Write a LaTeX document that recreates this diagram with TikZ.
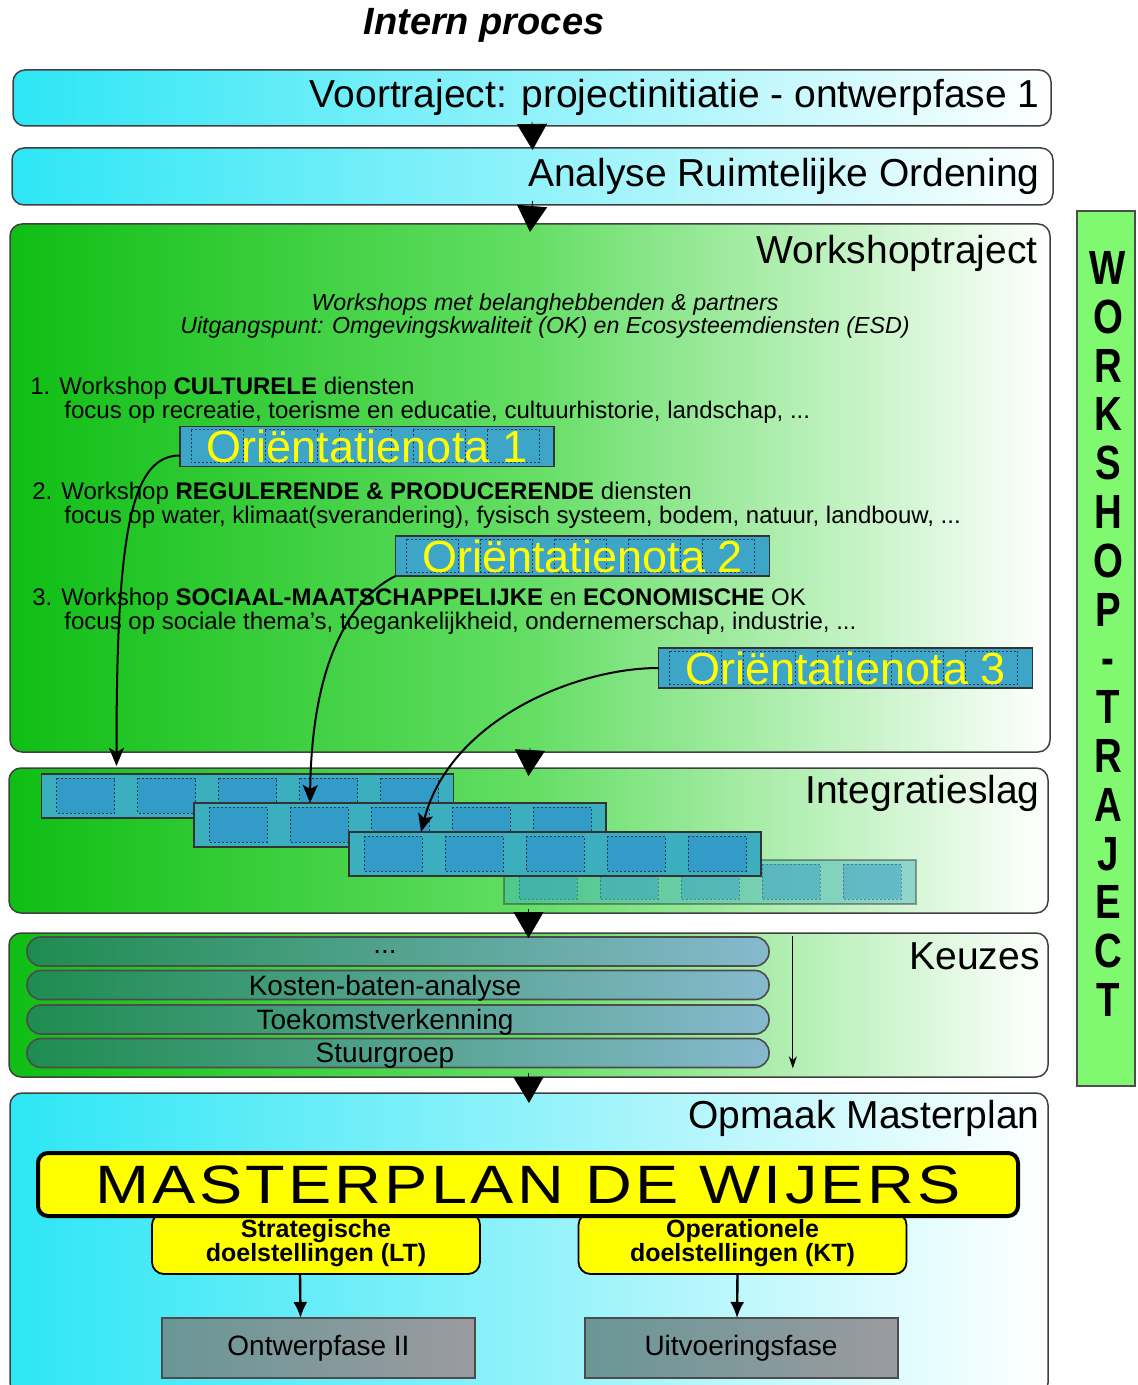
\documentclass[tikz,border=0pt]{standalone}
\usepackage{fontspec}
\setmainfont{Liberation Sans}
\newfontfamily\sidefont[FakeStretch=0.8]{Liberation Sans}
\newfontfamily\widefont[FakeStretch=1.2,LetterSpace=6]{Liberation Sans}
\usetikzlibrary{calc,arrows.meta}
\definecolor{cyanleft}{RGB}{45,230,245}
\definecolor{cyanmid}{RGB}{145,242,250}
\definecolor{greenleft}{RGB}{15,190,20}
\definecolor{greenmid}{RGB}{100,222,100}
\definecolor{notablue}{RGB}{60,165,200}
\definecolor{stripteal}{RGB}{60,175,190}
\definecolor{framefill}{RGB}{50,155,200}
\definecolor{frameline}{RGB}{30,60,90}
\definecolor{barleft}{RGB}{30,140,80}
\definecolor{barright}{RGB}{135,185,205}
\definecolor{grayleft}{RGB}{105,150,150}
\definecolor{grayright}{RGB}{155,155,160}
\definecolor{sidegreen}{RGB}{128,248,112}
\definecolor{masteryellow}{RGB}{255,255,0}
\tikzset{
  stage/.style={draw=black!75, line width=0.75pt, rounded corners=6pt, inner sep=0pt, outer sep=0pt},
  cyanstage/.style={stage, left color=cyanleft, right color=white, middle color=cyanmid},
  greenstage/.style={stage, left color=greenleft, right color=white, middle color=greenmid},
  stagelabel/.style={anchor=east, inner sep=0pt, font=\fontsize{19.5}{22}\selectfont},
  stagearrow/.style={-{Triangle[length=13pt,width=15pt]}, line width=0.4pt},
  intro/.style={align=center, inner sep=0pt, font=\fontsize{11.6}{10.5}\selectfont\itshape},
  item/.style={anchor=west, align=left, inner sep=0pt, font=\fontsize{12}{11}\selectfont},
  notabox/.style={draw=black!80, line width=0.8pt, fill=notablue, inner sep=0pt, outer sep=0pt,
    minimum width=187pt, minimum height=20pt},
  notaframe/.style={draw=frameline, dash pattern=on 1pt off 1pt, line width=0.4pt},
  notatext/.style={text=masteryellow, inner sep=0pt, font=\fontsize{22.5}{24}\selectfont},
  notaarrow/.style={-{Stealth[length=9pt,width=7.5pt,inset=2pt]}, line width=1pt},
  strip/.style={draw=black!80, line width=0.8pt, fill=stripteal, inner sep=0pt, outer sep=0pt,
    minimum width=206pt, minimum height=22pt},
  stripframe/.style={draw=frameline, dash pattern=on 1pt off 1pt, line width=0.4pt, fill=framefill},
  keuzebar/.style={draw=black!70, line width=0.8pt, rounded corners=7pt, left color=barleft,
    right color=barright, minimum width=371pt, minimum height=14.5pt, inner sep=0pt,
    font=\fontsize{14}{14}\selectfont},
  thinarrow/.style={-{Stealth[length=6pt,width=4pt]}, line width=0.6pt},
  yellowbox/.style={draw=black, fill=masteryellow, inner sep=0pt, outer sep=0pt},
  goalbox/.style={yellowbox, line width=0.9pt, rounded corners=6pt, minimum width=164pt,
    minimum height=30.5pt, align=center, font=\fontsize{12.5}{12}\selectfont\bfseries},
  graybox/.style={draw=black!70, line width=1pt, left color=grayleft, right color=grayright,
    minimum width=156.5pt, minimum height=30pt, inner sep=0pt, outer sep=0pt,
    font=\fontsize{14}{16}\selectfont},
  downarrow/.style={-{Latex[length=8pt,width=7pt]}, line width=1.2pt},
  sidebar/.style={draw=black!70, line width=0.8pt, fill=sidegreen, minimum width=29pt,
    minimum height=437.5pt, inner sep=0pt},
  sidetext/.style={inner sep=0pt, align=center, font=\sidefont\bfseries\fontsize{24}{24.4}\selectfont}
}
\newcommand\notanode[4]{%
  \node[notabox] (#1) at (#2,#3) {};
  \foreach \k in {0,...,4}
    \draw[notaframe] ($(#1.north west)+(11+74*\k,3)$) rectangle ++(52,33);
  \node[notatext] (#1t) at (#1) {#4};
}
\newcommand\filmstrip[4]{%
  \begin{scope}[opacity=#4]
  \node[strip] (#1) at (#2,#3) {};
  \foreach \k in {0,...,4}
    \draw[stripframe] ($(#1.north west)+(15+81*\k,4)$) rectangle ++(58,35);
  \end{scope}
}
\begin{document}
\begin{tikzpicture}[x=0.5pt,y=-0.5pt]
\useasboundingbox (0,0) rectangle (1137,1385);
\node[font=\fontsize{19}{22}\selectfont\bfseries\itshape] (title) at (484,25) {Intern proces};

\node[cyanstage, minimum width=519pt, minimum height=28pt] (voor) at (532,98) {};
\node[stagelabel] (voorlab) at (1040,97) {Voortraject: projectinitiatie - ontwerpfase 1};
\node[cyanstage, minimum width=520.5pt, minimum height=28.5pt] (ana) at (532.5,176.5) {};
\node[stagelabel] (analab) at (1040,176) {Analyse Ruimtelijke Ordening};
\node[greenstage, minimum width=520pt, minimum height=264pt] (ws) at (530,488) {};
\node[stagelabel] (wslab) at (1038,253) {Workshoptraject};
\node[greenstage, minimum width=519.5pt, minimum height=72.5pt] (integ) at (528.5,840.5) {};
\node[stagelabel] (integlab) at (1040,793) {Integratieslag};
\node[greenstage, minimum width=519.5pt, minimum height=72pt] (keuze) at (528.5,1005) {};
\node[stagelabel] (keuzelab) at (1040,956) {Keuzes};
\node[cyanstage, minimum width=519pt, minimum height=151pt] (opmaak) at (529,1244) {};
\node[stagelabel] (opmaaklab) at (1040,1118) {Opmaak Masterplan};

\node[intro] (intro) at (545,316) {Workshops met belanghebbenden \& partners\\
  Uitgangspunt: Omgevingskwaliteit (OK) en Ecosysteemdiensten (ESD)};
\node[item] (item1) at (30,400) {1. Workshop \textbf{CULTURELE} diensten\\
  \hspace*{17pt}focus op recreatie, toerisme en educatie, cultuurhistorie, landschap, ...};
\node[item] (item2) at (32,505) {2. Workshop \textbf{REGULERENDE \& PRODUCERENDE} diensten\\
  \hspace*{16pt}focus op water, klimaat(sverandering), fysisch systeem, bodem, natuur, landbouw, ...};
\node[item] (item3) at (32,611) {3. Workshop \textbf{SOCIAAL-MAATSCHAPPELIJKE} en \textbf{ECONOMISCHE} OK\\
  \hspace*{16pt}focus op sociale thema's, toegankelijkheid, ondernemerschap, industrie, ...};
\notanode{nota1}{367}{446.5}{Oriëntatienota 1}
\notanode{nota2}{582.5}{556}{Oriëntatienota 2}
\notanode{nota3}{845.5}{668}{Oriëntatienota 3}

\filmstrip{strip4}{710}{882}{0.45}
\filmstrip{strip1}{247.5}{796}{1}
\filmstrip{strip2}{400}{825}{1}
\filmstrip{strip3}{555}{854}{1}

\draw[notaarrow] ($(nota1.west)+(0,9)$) .. controls +(-50,0) and +(0,-230) .. ($(strip1.north west)+(75,-8)$);
\draw[notaarrow] (nota2.south west) .. controls +(-40,20) and +(2,-150) .. ($(strip2.north west)+(116,0)$);
\draw[notaarrow] (nota3.west) .. controls +(-83,0) and +(29,-112) .. ($(strip3.north west)+(72,0)$);

\foreach \y/\t [count=\i] in {951.5/{...}, 985/Kosten-baten-analyse, 1019.5/Toekomstverkenning, 1053/Stuurgroep}
  \node[keuzebar, text depth=0pt] (bar\i) at (398,\y) {\hspace*{-13pt}\t};
\draw[thinarrow] ([xshift=11.5pt]bar1.north east) -- ([xshift=11.5pt]bar4.south east);

\node[goalbox] (strat) at (316,1243.5) {Strategische\\doelstellingen (LT)};
\node[goalbox] (oper) at (742.5,1243.5) {Operationele\\doelstellingen (KT)};
\node[yellowbox, line width=2pt, rounded corners=5pt, minimum width=490pt, minimum height=31.5pt,
  font=\widefont\fontsize{27}{27}\selectfont] (master) at (528,1184.5) {MASTERPLAN DE WIJERS};
\node[graybox] (ontw) at (318.5,1348) {Ontwerpfase II};
\node[graybox] (uitv) at (741,1348) {Uitvoeringsfase};
\draw[downarrow] ([xshift=-8pt]strat.south) -- ([xshift=-9pt]ontw.north);
\draw[downarrow] ([xshift=-2.5pt]oper.south) -- ([xshift=-2pt]uitv.north);

\draw[stagearrow] ([yshift=2pt]voor.south) -- ([yshift=-1pt]ana.north);
\draw[stagearrow] ([yshift=2pt]ana.south) -- ([yshift=-4pt]ws.north);
\draw[stagearrow] ([yshift=2pt]ws.south) -- ([yshift=-4pt]integ.north);
\draw[stagearrow] ([yshift=2pt]integ.south) -- ([yshift=-2.5pt]keuze.north);
\draw[stagearrow] ([yshift=2pt]keuze.south) -- ([yshift=-5pt]opmaak.north);

\node[sidebar] (side) at (1106,648.5) {};
\node[sidetext] (sidelab) at (1108,634) {W\\O\\R\\K\\S\\H\\O\\P\\-\\T\\R\\A\\J\\E\\C\\T};
\end{tikzpicture}
\end{document}
